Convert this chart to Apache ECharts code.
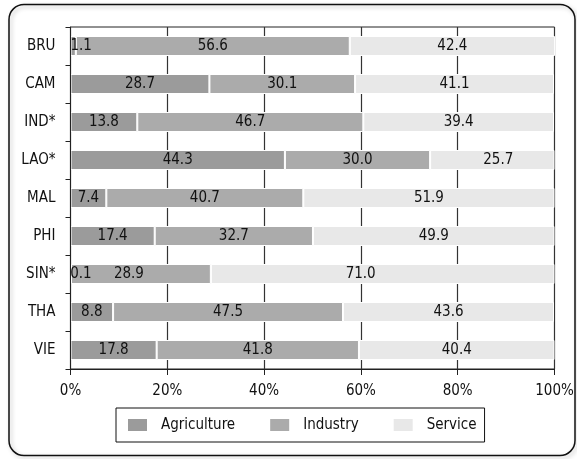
<!DOCTYPE html>
<html lang="en">
<head>
    <meta charset="UTF-8">
    <title>Employment by sector</title>
    <style>
        html, body { margin: 0; padding: 0; background: #fff; }
    </style>
</head>
<body>
<div id="demo" style="width:577px;height:459px"></div>
<script src="https://cdn.jsdelivr.net/npm/echarts@6/dist/echarts.min.js"></script>
<script type="text/javascript">

    var countries = ['BRU', 'CAM', 'IND*', 'LAO*', 'MAL', 'PHI', 'SIN*', 'THA', 'VIE'];
    var agriculture = [1.1, 28.7, 13.8, 44.3, 7.4, 17.4, 0.1, 8.8, 17.8];
    var industry = [56.6, 30.1, 46.7, 30.0, 40.7, 32.7, 28.9, 47.5, 41.8];
    var service = [42.4, 41.1, 39.4, 25.7, 51.9, 49.9, 71.0, 43.6, 40.4];
    var seriesNames = ['Agriculture', 'Industry', 'Service'];
    var xTicks = [0, 20, 40, 60, 80, 100];

    var FONT = "'Liberation Sans Narrow', 'Arial Narrow', 'DejaVu Sans Condensed', sans-serif";
    var colors = ['#9b9b9b', '#ababab', '#e8e8e8'];

    // small tweaks where the original moves a label off the segment centre
    function labelFor(name, idx, v) {
        var lab = {};
        if (v < 2) {
            lab.position = 'insideLeft';
            lab.distance = 0;
        }
        if (name === 'Industry' && countries[idx] === 'SIN*') lab.offset = [-12, 0];
        if (name === 'Service' && countries[idx] === 'SIN*') lab.offset = [-22, 0];
        if (name === 'Service' && countries[idx] === 'LAO*') lab.offset = [6, 0];
        return lab;
    }

    function makeSeries(name, vals, i) {
        var data = [];
        for (var k = 0; k < vals.length; k++) {
            data.push({ value: vals[k], label: labelFor(name, k, vals[k]) });
        }
        return {
            name: name,
            type: 'bar',
            stack: 'total',
            barWidth: 20,
            itemStyle: { color: colors[i], borderColor: '#fff', borderWidth: 1 },
            label: {
                show: true,
                position: 'inside',
                color: '#111',
                fontSize: 15,
                fontFamily: FONT,
                formatter: function (p) { return p.value.toFixed(1); }
            },
            data: data
        };
    }

    var myChart = echarts.init(document.getElementById('demo'));
    var option = {
        animation: false,
        textStyle: { fontFamily: FONT },
        graphic: [{
            type: 'rect',
            shape: { x: 9, y: 4.5, width: 566, height: 451, r: 15 },
            style: {
                fill: 'none', stroke: '#111', lineWidth: 1.5,
                shadowColor: 'rgba(0,0,0,0.25)', shadowBlur: 4, shadowOffsetX: 2, shadowOffsetY: 2
            },
            z: -10
        }],
        grid: {
            left: 70.5, right: 22.5, top: 27, bottom: 90,
            show: true, borderColor: '#222', borderWidth: 1
        },
        legend: {
            data: seriesNames,
            left: 116, top: 408,
            orient: 'horizontal',
            borderColor: '#111', borderWidth: 1, borderRadius: 0,
            padding: [9, 8, 9, 10],
            itemWidth: 21, itemHeight: 14, itemGap: 33,
            icon: 'rect',
            textStyle: { fontSize: 15, color: '#111', fontFamily: FONT, padding: [0, 0, 0, 8] }
        },
        xAxis: {
            type: 'value',
            min: xTicks[0], max: xTicks[xTicks.length - 1], interval: 20,
            axisLine: { show: true, lineStyle: { color: '#222', width: 1 } },
            axisTick: { show: true, length: 6, lineStyle: { color: '#222' } },
            axisLabel: { fontSize: 15, color: '#111', fontFamily: FONT, margin: 15, formatter: '{value}%' },
            splitLine: { show: true, lineStyle: { color: '#333', width: 1.2 } }
        },
        yAxis: {
            type: 'category',
            data: countries,
            inverse: true,
            z: 10,
            axisLine: { show: true, lineStyle: { color: '#222', width: 1 } },
            axisTick: { show: true, length: 5, lineStyle: { color: '#222' } },
            axisLabel: { fontSize: 15, color: '#111', fontFamily: FONT, margin: 15 }
        },
        series: [
            makeSeries('Agriculture', agriculture, 0),
            makeSeries('Industry', industry, 1),
            makeSeries('Service', service, 2)
        ]
    };
    myChart.setOption(option);
</script>
</body>
</html>
